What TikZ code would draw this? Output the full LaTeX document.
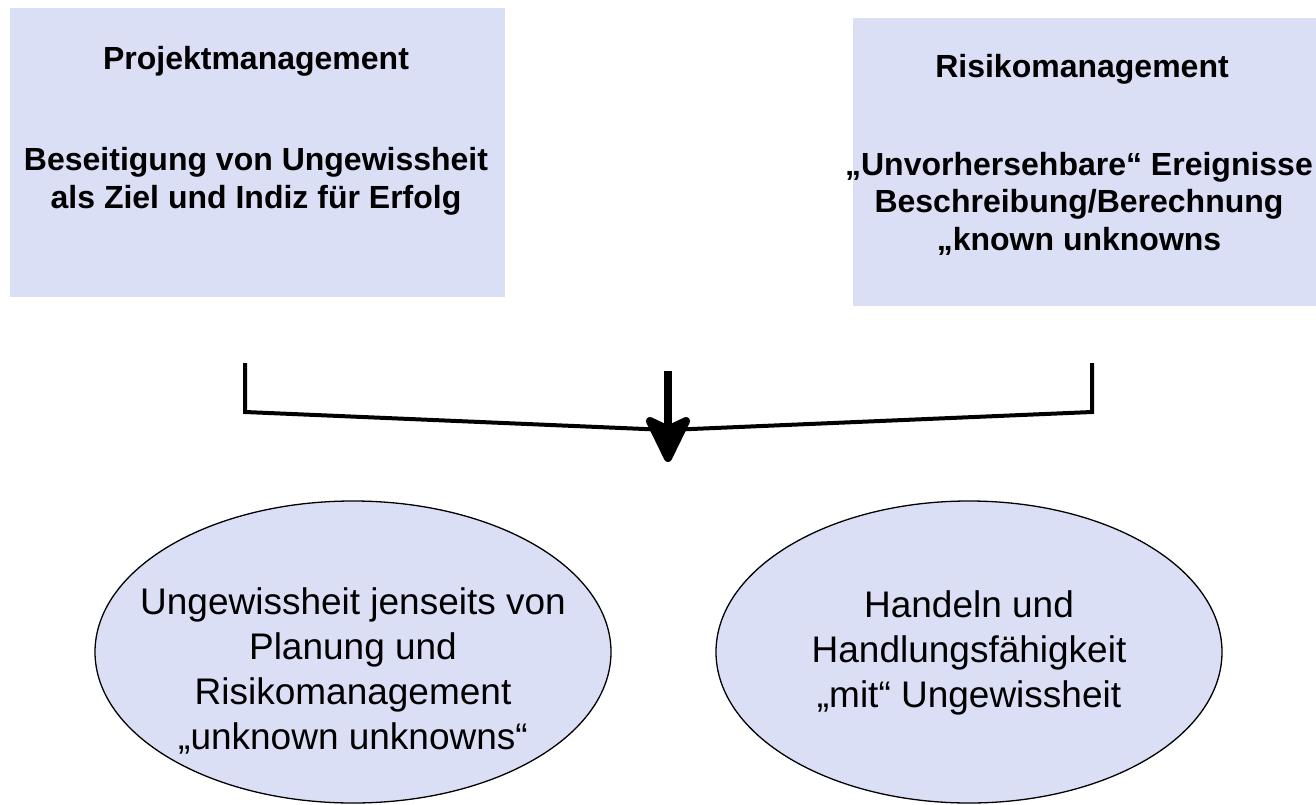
\documentclass[tikz,border=0pt]{standalone}
\usepackage{fontspec}
\setmainfont{Liberation Sans}
\usetikzlibrary{shapes.geometric, arrows.meta}
\definecolor{boxblue}{RGB}{218,223,245}
\tikzstyle{box} = [rectangle, inner sep=0pt, fill=boxblue, draw=none]
\tikzstyle{headline} = [font=\fontsize{32}{37.5}\selectfont\bfseries, align=center, anchor=base]
\tikzstyle{bubble} = [ellipse, inner sep=0pt, draw=black, line width=1.3pt, fill=boxblue]
\tikzstyle{bubbletext} = [font=\fontsize{37}{45}\selectfont, align=center, anchor=base]
\tikzstyle{bracket} = [line width=4pt, line join=miter]
\tikzstyle{arrow} = [line width=8pt, -{Stealth[length=54pt,width=52pt,inset=12pt,round]}]

\begin{document}
\begin{tikzpicture}[x=1pt,y=-1pt]
\useasboundingbox (0,0) rectangle (1316,805);
% top boxes
\node (project) [box, minimum width=495pt, minimum height=289pt] at (257.5,152.5) {};
\node (risk) [box, minimum width=463pt, minimum height=288pt] at (1084.5,162) {};
\node (projecttitle) [headline] at (256,70) {Projektmanagement};
\node (projecttext) [headline] at (256,208) {Beseitigung von Ungewissheit\\als Ziel und Indiz für Erfolg};
\node (risktitle) [headline] at (1082,78) {Risikomanagement};
\node (risktext) [headline] at (1079,250) {„Unvorhersehbare“ Ereignisse\\Beschreibung/Berechnung\\„known unknowns};
% bracket and arrow
\coordinate (lefttop) at (245,363);
\coordinate (leftcorner) at (245,412);
\coordinate (middle) at (668,430);
\coordinate (rightcorner) at (1092,412);
\coordinate (righttop) at (1092,363);
\coordinate (arrowtop) at (668,371);
\coordinate (arrowtip) at (668,462);
\draw [bracket] (lefttop) -- (leftcorner) -- (middle) -- (rightcorner) -- (righttop);
\draw [arrow] (arrowtop) -- (arrowtip);
% bottom ellipses
\node (beyond) [bubble, minimum width=516pt, minimum height=302pt] at (353,652) {};
\node (acting) [bubble, minimum width=506pt, minimum height=302pt] at (969,652) {};
\node (beyondtext) [bubbletext] at (353,749) {Ungewissheit jenseits von\\Planung und\\Risikomanagement\\„unknown unknowns“};
\node (actingtext) [bubbletext] at (969,707) {Handeln und\\Handlungsfähigkeit\\„mit“ Ungewissheit};
\end{tikzpicture}
\end{document}
